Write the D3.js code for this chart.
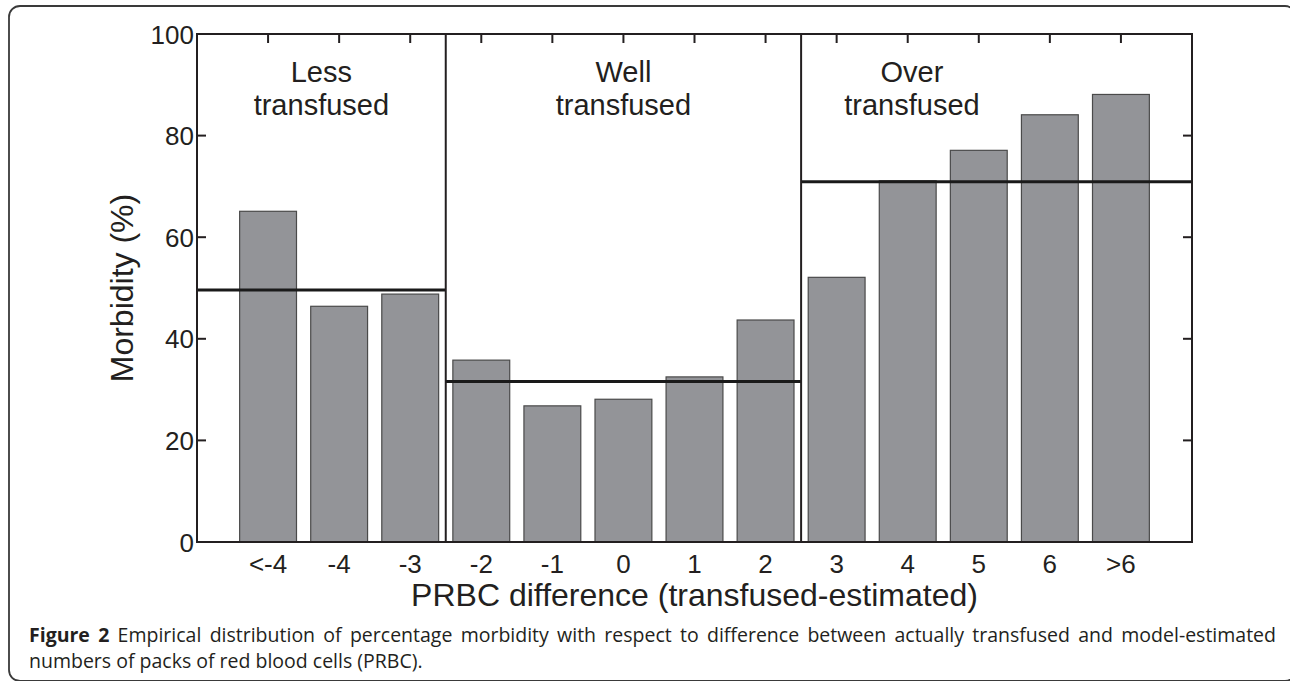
<!DOCTYPE html>
<html><head><meta charset="utf-8">
<script src="https://cdn.jsdelivr.net/npm/d3@7"></script>
<style>
html,body{margin:0;padding:0;background:#fff;}
svg{display:block;}
</style></head>
<body>
<svg id="chart" width="1290" height="681"></svg>
<script>
const categories = ["<-4","-4","-3","-2","-1","0","1","2","3","4","5","6",">6"];
const morbidity = [65.1, 46.4, 48.8, 35.8, 26.8, 28.1, 32.5, 43.7, 52.1, 71.1, 77.1, 84.1, 88.1];
const groupLines1 = ["Less", "Well", "Over"];
const groupLines2 = ["transfused", "transfused", "transfused"];
const groupStart = [0, 3.5, 8.5];
const groupEnd = [3.5, 8.5, 14];
const groupMeans = [49.6, 31.6, 70.9];
const groupLabelPos = [1.75, 6, 10.06];
const yTicks = [0, 20, 40, 60, 80, 100];
const xLabel = "PRBC difference (transfused-estimated)";
const yLabel = "Morbidity (%)";
const captionBold = "Figure 2";
const captionLine1 = " Empirical distribution of percentage morbidity with respect to difference between actually transfused and model-estimated";
const captionLine2 = "numbers of packs of red blood cells (PRBC).";

const svg = d3.select("#chart");
const L = 197, R = 1192, T = 34, B = 542;
const x = d3.scaleLinear().domain([0, categories.length + 1]).range([L, R]);
const y = d3.scaleLinear().domain([0, 100]).range([B, T]);
const ink = "#231f20";
const font = "'Liberation Sans', Arial, Helvetica, sans-serif";

// frame
svg.append("rect").attr("x", 9).attr("y", 6).attr("width", 1287).attr("height", 675)
  .attr("rx", 11).attr("fill", "none").attr("stroke", "#3a3a3a").attr("stroke-width", 1.8);

// ticks (inward), behind bars
const tl = 9;
const tickG = svg.append("g").attr("stroke", ink).attr("stroke-width", 2);
yTicks.forEach(t => {
  tickG.append("line").attr("x1", L).attr("x2", L + tl).attr("y1", y(t)).attr("y2", y(t));
  tickG.append("line").attr("x1", R).attr("x2", R - tl).attr("y1", y(t)).attr("y2", y(t));
});
categories.forEach((c, i) => {
  tickG.append("line").attr("x1", x(i + 1)).attr("x2", x(i + 1)).attr("y1", T).attr("y2", T + tl);
  tickG.append("line").attr("x1", x(i + 1)).attr("x2", x(i + 1)).attr("y1", B).attr("y2", B - tl);
});

// bars
const bw = 0.8;
svg.append("g").selectAll("rect").data(morbidity).join("rect")
  .attr("x", (d, i) => x(i + 1 - bw / 2))
  .attr("width", (d, i) => x(i + 1 + bw / 2) - x(i + 1 - bw / 2))
  .attr("y", d => y(d))
  .attr("height", d => y(0) - y(d))
  .attr("fill", "#939498").attr("stroke", "#4a4a4a").attr("stroke-width", 1.2);

// group mean lines
svg.append("g").selectAll("line").data(groupMeans).join("line")
  .attr("x1", (d, i) => x(groupStart[i])).attr("x2", (d, i) => x(groupEnd[i]))
  .attr("y1", d => y(d)).attr("y2", d => y(d))
  .attr("stroke", "#1a1a1a").attr("stroke-width", 3);

// dividers
svg.append("g").selectAll("line").data(groupStart.slice(1)).join("line")
  .attr("x1", d => x(d)).attr("x2", d => x(d)).attr("y1", y(0)).attr("y2", y(100))
  .attr("stroke", ink).attr("stroke-width", 2);

// axes box
svg.append("rect").attr("x", L).attr("y", T).attr("width", R - L).attr("height", B - T)
  .attr("fill", "none").attr("stroke", ink).attr("stroke-width", 2);

// group labels
groupLines1.forEach((g, i) => {
  const t = svg.append("text").attr("x", x(groupLabelPos[i])).attr("text-anchor", "middle")
    .attr("font-family", font).attr("font-size", 29).attr("fill", ink);
  t.append("tspan").attr("x", x(groupLabelPos[i])).attr("y", 82).text(g);
  t.append("tspan").attr("x", x(groupLabelPos[i])).attr("y", 115).text(groupLines2[i]);
});

// y tick labels
svg.append("g").selectAll("text").data(yTicks).join("text")
  .attr("x", L - 3).attr("y", d => y(d) + 9.5).attr("text-anchor", "end")
  .attr("font-family", font).attr("font-size", 26).attr("fill", ink).text(d => d);

// x tick labels
svg.append("g").selectAll("text").data(categories).join("text")
  .attr("x", (d, i) => x(i + 1)).attr("y", 573).attr("text-anchor", "middle")
  .attr("font-family", font).attr("font-size", 26).attr("fill", ink).text(d => d);

// axis labels
svg.append("text").attr("x", (L + R) / 2).attr("y", 606).attr("text-anchor", "middle")
  .attr("font-family", font).attr("font-size", 32).attr("fill", ink).text(xLabel);
svg.append("text").attr("transform", `translate(133,${(T + B) / 2}) rotate(-90)`)
  .attr("text-anchor", "middle").attr("font-family", font).attr("font-size", 32)
  .attr("fill", ink).text(yLabel);

// caption
const capFont = "'Open Sans', 'Noto Sans', sans-serif";
const c1 = svg.append("text").attr("x", 29).attr("y", 642).attr("font-family", capFont)
  .attr("font-size", 19.5).attr("fill", "#231f20");
c1.append("tspan").attr("font-weight", "bold").text(captionBold);
c1.append("tspan").text(captionLine1);
const target = 1276 - 29;
const len = c1.node().getComputedTextLength();
const spaces = (captionBold + captionLine1).split(" ").length - 1;
c1.attr("word-spacing", Math.max(0, (target - len) / spaces));
svg.append("text").attr("x", 29).attr("y", 668).attr("font-family", capFont)
  .attr("font-size", 19.5).attr("fill", "#231f20").text(captionLine2);
</script>
</body></html>
